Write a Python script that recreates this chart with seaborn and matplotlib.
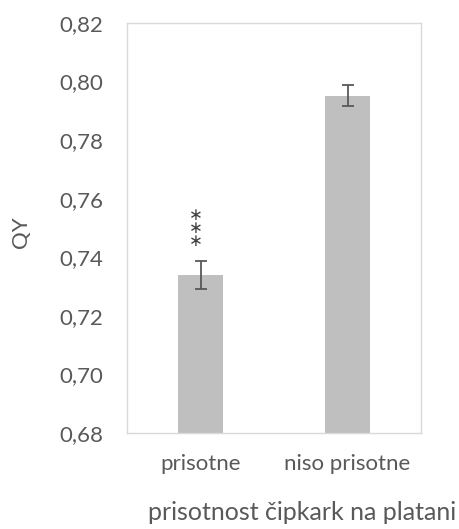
import matplotlib
matplotlib.use("Agg")
import matplotlib.pyplot as plt
import seaborn as sns
import pandas as pd
from matplotlib.ticker import FuncFormatter

categories = ["prisotne", "niso prisotne"]
values = [0.734, 0.7952]
errors = [0.0047, 0.0036]
yticks = [0.68, 0.70, 0.72, 0.74, 0.76, 0.78, 0.80, 0.82]
significance = "∗\n∗\n∗"

sns.set_theme(style="white")
plt.rcParams['font.family'] = ['Lato', 'DejaVu Sans']

fig = plt.figure(figsize=(4.59, 5.29), dpi=100)
ax = fig.add_axes([127/459, 1-433/529, (421-127)/459, (433-23)/529])

df = pd.DataFrame({"cat": categories, "val": values})
sns.barplot(data=df, x="cat", y="val", color="#bfbfbf", width=0.31,
            errorbar=None, ax=ax, saturation=1, edgecolor="none")
ax.errorbar(x=range(len(categories)), y=values, yerr=errors, fmt="none",
            ecolor="#595959", elinewidth=1.3, capsize=4, capthick=1.3)

ax.text(-0.03, 0.7500, significance, ha="center", va="center", fontsize=12,
        color="#404040", family="DejaVu Sans", linespacing=0.62)

ax.set_ylim(0.68, 0.82)
ax.set_xlim(-0.5, 1.5)
ax.set_yticks(yticks)
ax.yaxis.set_major_formatter(FuncFormatter(lambda v, p: f"{v:.2f}".replace(".", ",")))
ax.tick_params(axis="both", length=0, labelsize=16, colors="#595959")
ax.tick_params(axis="y", pad=17)
ax.tick_params(axis="x", pad=15)
for s in ax.spines.values():
    s.set_color("#d9d9d9")
    s.set_linewidth(1)
ax.set_xlabel("prisotnost čipkark na platani", fontsize=18, color="#595959")
ax.xaxis.label.set_va("center")
ax.xaxis.set_label_coords(0.597, -0.195)
ax.set_ylabel("QY", fontsize=16, color="#595959")
ax.yaxis.label.set_va("center")
ax.yaxis.set_label_coords(-0.362, 0.49)
ax.grid(False)

fig.savefig("out.png", dpi=100)
